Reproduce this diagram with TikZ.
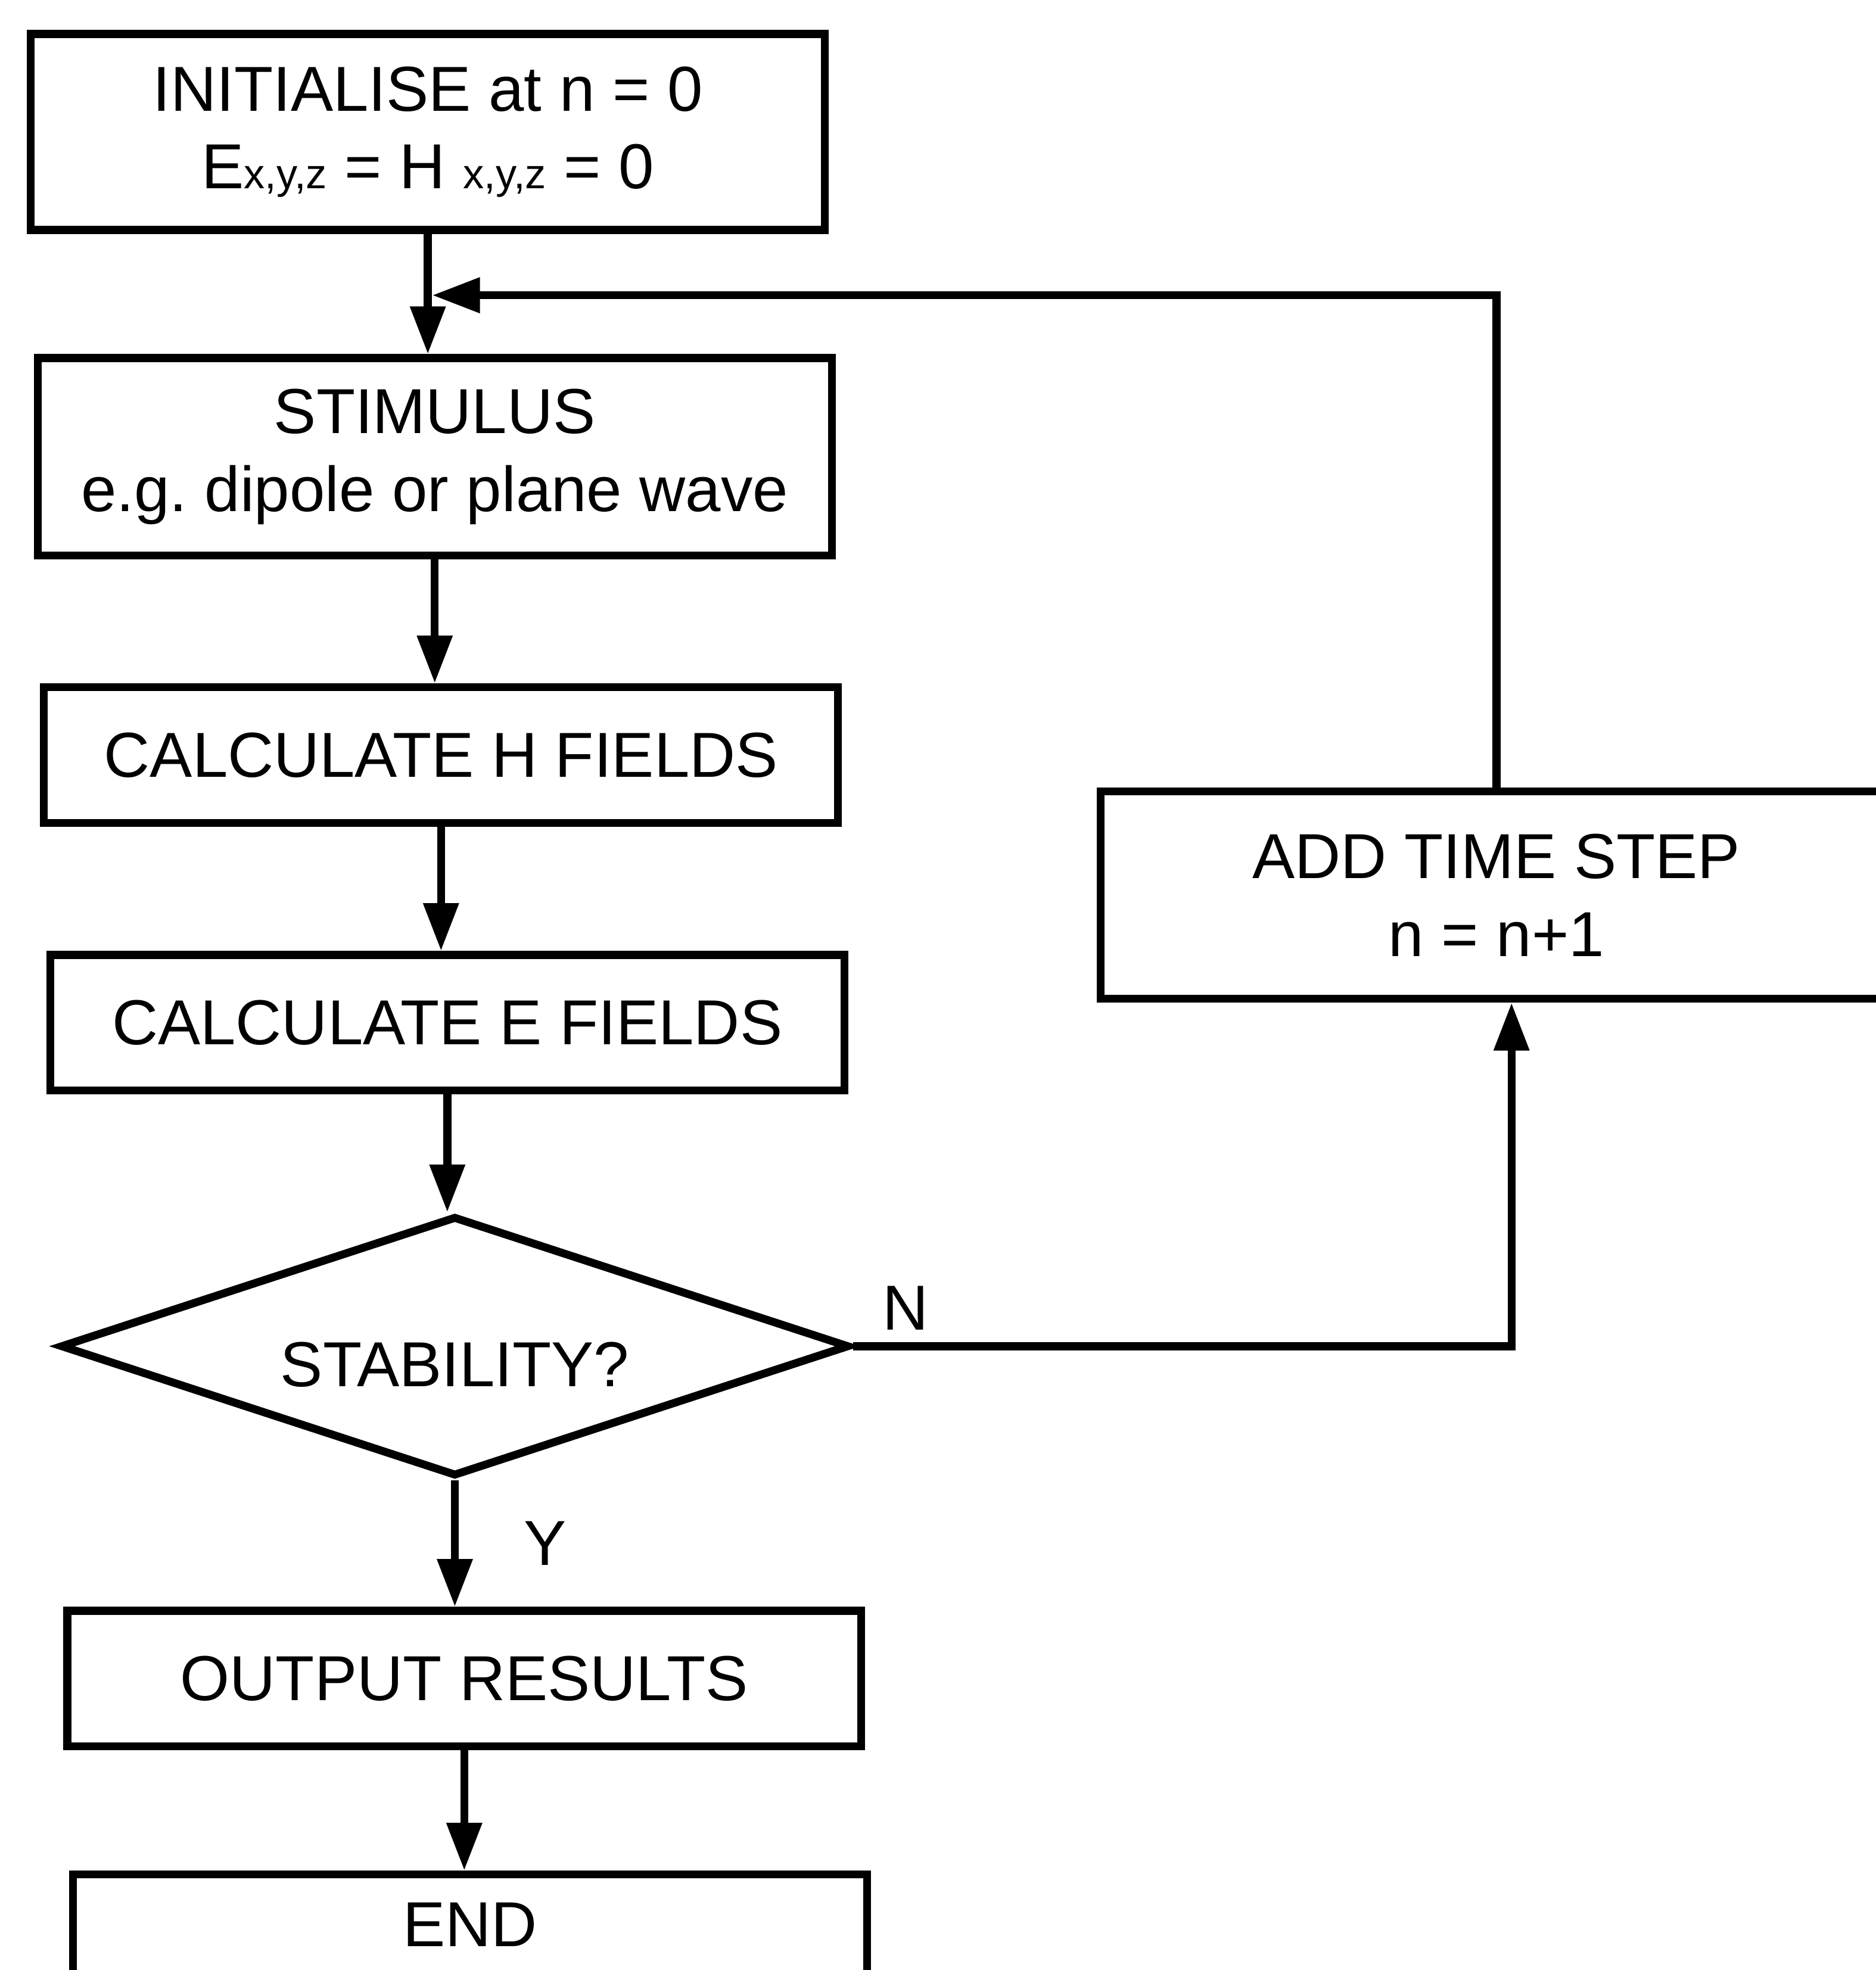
\documentclass[tikz,border=0pt]{standalone}
\usepackage{fontspec}
\setmainfont{Liberation Sans}
\usetikzlibrary{shapes.geometric, arrows.meta, positioning}
\newcommand{\xyz}{{\fontsize{9.5}{10}\selectfont x,y,z}}

\begin{document}
\begin{tikzpicture}[>={Triangle[length=3.8mm, width=2.7mm]},
    box/.style={draw, line width=1.8pt, align=center, minimum width=6.32cm, font=\fontsize{14.4}{17.6}\selectfont},
    decision/.style={draw, diamond, aspect=3, line width=1.8pt, inner sep=0pt, minimum width=6.28cm, minimum height=2.07cm, font=\fontsize{14.4}{17.6}\selectfont},
    flow/.style={->, line width=1.8pt},
    lbl/.style={inner sep=0pt, font=\fontsize{14.4}{17.6}\selectfont}]
    \useasboundingbox (0,0) rectangle (14.93,-15.68);

    % Main column
    \node[box, minimum height=1.56cm] (init) at (3.405,-1.05) {INITIALISE at n = 0\\E\xyz{} = H \xyz{} = 0};
    \node[box, minimum height=1.57cm] (stim) at (3.46,-3.635) {STIMULUS\\e.g.\ dipole or plane wave};
    \node[box, minimum height=1.08cm] (hcalc) at (3.51,-6.01) {CALCULATE H FIELDS};
    \node[box, minimum height=1.08cm] (ecalc) at (3.56,-8.14) {CALCULATE E FIELDS};
    \node[decision, text height=6.5mm] (stab) at (3.62,-10.715) {STABILITY?};
    \node[box, minimum height=1.08cm] (output) at (3.695,-13.36) {OUTPUT RESULTS};
    \node[box, minimum height=0.8cm] (fin) at (3.74,-15.32) {END};

    % Time step box on the right
    \node[box, minimum width=6.30cm, minimum height=1.65cm] (tstep) at (11.91,-7.125) {ADD TIME STEP\\n = n+1};

    \coordinate (join) at (3.44,-2.35);
    \coordinate (ncorner) at (12.03,0);

    % Forward arrows
    \draw[flow] (init.south) -- (init.south |- stim.north);
    \draw[flow] (stim.south) -- (stim.south |- hcalc.north);
    \draw[flow] (hcalc.south) -- (hcalc.south |- ecalc.north);
    \draw[flow] (ecalc.south) -- (ecalc.south |- stab.north);
    \draw[flow] (stab.south) -- node[midway, right=4mm] {\fontsize{14.4}{17.6}\selectfont Y} (stab.south |- output.north);
    \draw[flow] (output.south) -- (output.south |- fin.north);

    % Loop back
    \draw[flow] (stab.east) -- node[lbl, pos=0, anchor=south west, xshift=2mm, yshift=1mm] {N} (stab.east -| ncorner) -- (ncorner |- tstep.south);
    \draw[flow] (tstep.north) |- (join);
\end{tikzpicture}
\end{document}
